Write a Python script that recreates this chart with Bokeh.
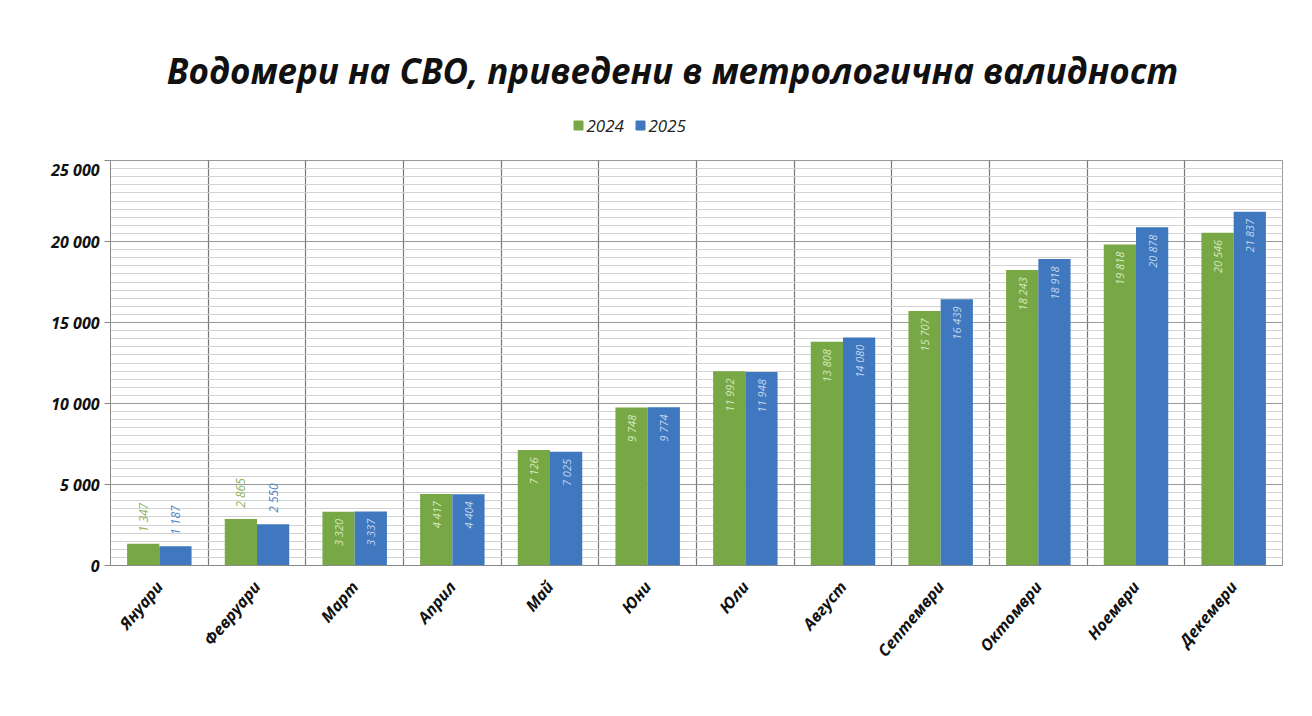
from bokeh.plotting import figure
from bokeh.layouts import column
from bokeh.models import ColumnDataSource, FixedTicker, Range1d
from bokeh.core.properties import value
from bokeh.embed import file_html
from bokeh.resources import INLINE
import math

title_text = "Водомери на СВО, приведени в метрологична валидност"
months = ["Януари", "Февруари", "Март", "Април", "Май", "Юни", "Юли",
          "Август", "Септември", "Октомври", "Ноември", "Декември"]
series_names = ["2024", "2025"]
values_2024 = [1347, 2865, 3320, 4417, 7126, 9748, 11992, 13808, 15707, 18243, 19818, 20546]
values_2025 = [1187, 2550, 3337, 4404, 7025, 9774, 11948, 14080, 16439, 18918, 20878, 21837]
y_ticks = [0, 5000, 10000, 15000, 20000, 25000]

GREEN = "#77a845"
BLUE = "#3f78be"
FONT = "Open Sans"
W = 1294
FW = 1172
HH = 158

def fmt(v):
    return f"{v:,}".replace(",", " ")

# ---- header: title + legend (frame aligned with chart frame) ----
head = figure(width=W, frame_width=FW, height=HH, output_backend="svg", toolbar_location=None,
              x_range=Range1d(0, FW), y_range=Range1d(0, HH),
              min_border_left=110, min_border_right=12, min_border_top=0, min_border_bottom=0,
              outline_line_color=None)
head.axis.visible = False
head.grid.visible = False
head.text(x=[FW / 2 - 24], y=[HH - 70], text=[title_text], text_align="center", text_baseline="middle",
          text_font=value(FONT), text_font_style="bold italic", text_font_size="35px",
          text_color="#111111")
head.scatter(x=[468, 530], y=[33, 33], marker="square", size=9, color=[GREEN, BLUE])
head.text(x=[476, 538], y=[33, 33], text=series_names, text_align="left", text_baseline="middle",
          text_font=value(FONT), text_font_style="italic", text_font_size="17px",
          text_color="#222222")

# ---- main chart ----
p = figure(width=W, frame_width=FW, frame_height=405, output_backend="svg", toolbar_location=None,
           x_range=Range1d(-0.5, len(months) - 0.5), y_range=Range1d(0, 25000),
           min_border_left=110, min_border_right=12, min_border_top=2, min_border_bottom=10)

idx = list(range(len(months)))
offset = 0.165
bw = 0.33
src24 = ColumnDataSource(dict(x=[i - offset for i in idx], top=values_2024))
src25 = ColumnDataSource(dict(x=[i + offset for i in idx], top=values_2025))

p.vbar(x="x", top="top", width=bw, source=src24, color=GREEN, line_color=None)
p.vbar(x="x", top="top", width=bw, source=src25, color=BLUE, line_color=None)

for vals, xs, inner_col, outer_col in [(values_2024, [i - offset for i in idx], "#d7e8c0", "#8db35a"),
                                        (values_2025, [i + offset for i in idx], "#c4d6ef", "#4f86c6")]:
    inside = dict(x=[], y=[], t=[])
    outside = dict(x=[], y=[], t=[])
    for x, v in zip(xs, vals):
        if v < 3000:
            outside["x"].append(x); outside["y"].append(v + 700); outside["t"].append(fmt(v))
        else:
            inside["x"].append(x); inside["y"].append(v - 450); inside["t"].append(fmt(v))
    p.text(x="x", y="y", text="t", source=ColumnDataSource(inside), angle=math.pi / 2,
           text_align="right", text_baseline="middle", text_font=value(FONT),
           text_font_style="italic", text_font_size="11px", text_color=inner_col)
    p.text(x="x", y="y", text="t", source=ColumnDataSource(outside), angle=math.pi / 2,
           text_align="left", text_baseline="middle", text_font=value(FONT),
           text_font_style="italic", text_font_size="12px", text_color=outer_col)

p.yaxis.ticker = FixedTicker(ticks=y_ticks, minor_ticks=list(range(0, 25001, 500)))
p.yaxis.major_label_overrides = {t: fmt(t) for t in y_ticks}
p.yaxis.major_label_text_font = FONT
p.yaxis.major_label_text_font_style = "bold italic"
p.yaxis.major_label_text_font_size = "16px"
p.yaxis.major_label_text_color = "#111111"
p.yaxis.axis_line_color = "#888888"
p.yaxis.major_tick_line_color = "#888888"
p.yaxis.minor_tick_line_color = None
p.yaxis.major_tick_out = 6
p.yaxis.major_tick_in = 0

p.xaxis.ticker = FixedTicker(ticks=idx)
p.xaxis.major_label_overrides = {i: m for i, m in enumerate(months)}
p.xaxis.major_label_orientation = 0.87
p.xaxis.major_label_text_font = FONT
p.xaxis.major_label_text_font_style = "bold italic"
p.xaxis.major_label_text_font_size = "16px"
p.xaxis.major_label_text_color = "#111111"
p.xaxis.axis_line_color = "#888888"
p.xaxis.major_tick_line_color = None
p.xaxis.minor_tick_line_color = None
p.xaxis.major_label_standoff = 12

p.xgrid.ticker = FixedTicker(ticks=[i - 0.5 for i in range(len(months) + 1)])
p.xgrid.grid_line_color = "#777777"
p.xgrid.grid_line_width = 1.2
p.ygrid.grid_line_color = "#999999"
p.ygrid.minor_grid_line_color = "#d2d2d2"

p.outline_line_color = "#999999"
p.background_fill_color = "white"
p.border_fill_color = "white"

layout = column(head, p, spacing=0)
open("out.html", "w").write(file_html(layout, INLINE))
